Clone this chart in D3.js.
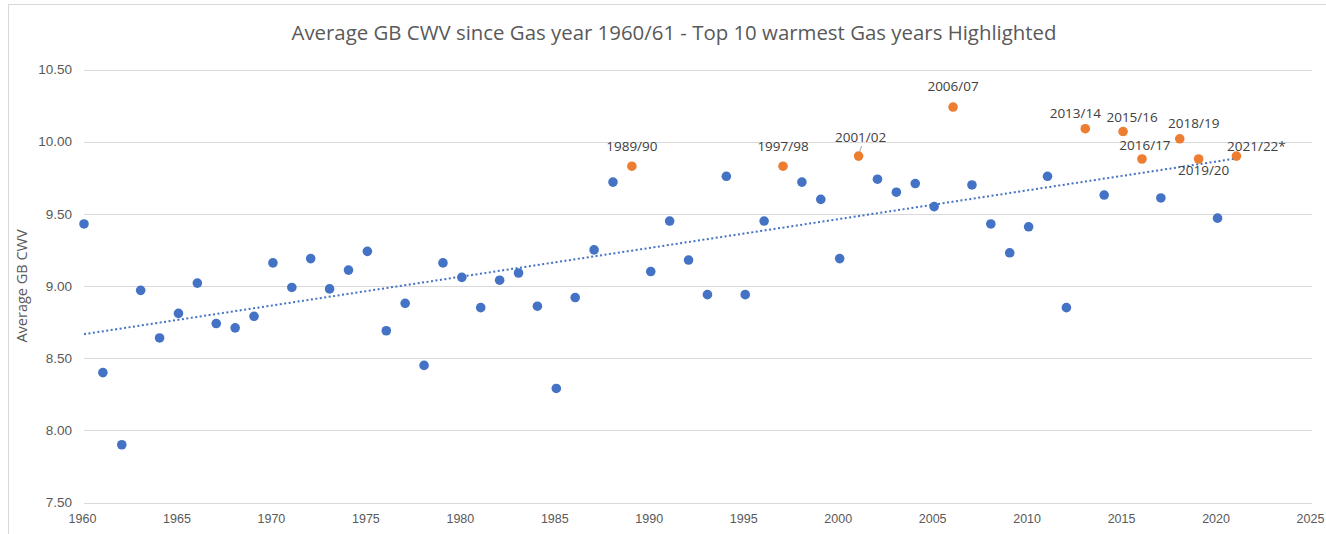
<!DOCTYPE html>
<html lang="en">
<head>
<meta charset="utf-8">
<title>Average GB CWV since Gas year 1960/61</title>
<script src="https://cdn.jsdelivr.net/npm/d3@7"></script>
<style>
  body { margin: 0; background: #fff; font-family: "Open Sans", sans-serif; overflow: hidden; }
  svg { display: block; }
  .grid line { stroke: #d9d9d9; stroke-width: 1; }
  .axis path, .axis line { display: none; }
  .axis text { fill: #595959; }
  .title { fill: #595959; font-size: 20.4px; }
  .ylabel { fill: #595959; font-size: 14.5px; }
  .lbl { fill: #404040; font-size: 13.5px; }
</style>
</head>
<body>
<div id="chart"></div>
<script>
// gas year start (1960 = 1960/61)
const years = d3.range(1960, 2022);
const cwv = [
  9.43, 8.40, 7.90, 8.97, 8.64, 8.81, 9.02, 8.74, 8.71, 8.79,
  9.16, 8.99, 9.19, 8.98, 9.11, 9.24, 8.69, 8.88, 8.45, 9.16,
  9.06, 8.85, 9.04, 9.09, 8.86, 8.29, 8.92, 9.25, 9.72, 9.83,
  9.10, 9.45, 9.18, 8.94, 9.76, 8.94, 9.45, 9.83, 9.72, 9.60,
  9.19, 9.90, 9.74, 9.65, 9.71, 9.55, 10.24, 9.70, 9.43, 9.23,
  9.41, 9.76, 8.85, 10.09, 9.63, 10.07, 9.88, 9.61, 10.02, 9.88,
  9.47, 9.90
];
// top 10 warmest gas years
const warmest = ["1989/90", "1997/98", "2001/02", "2006/07", "2013/14",
                 "2015/16", "2016/17", "2018/19", "2019/20", "2021/22*"];
const xTicks = d3.range(1960, 2026, 5);
const yTicks = [7.5, 8.0, 8.5, 9.0, 9.5, 10.0, 10.5];

// label placement (dx, dy from the point to the text centre)
const labelPos = {
  "1989/90": [0, -20], "1997/98": [0, -20], "2001/02": [2, -19],
  "2006/07": [0, -21], "2013/14": [-10, -15], "2015/16": [9, -14],
  "2016/17": [3, -14], "2018/19": [14, -16], "2019/20": [5, 11],
  "2021/22*": [20, -10]
};

const W = 1326, H = 534;
const margin = { left: 84, right: 14, top: 69.5, bottom: 31.5 };

const svg = d3.select("#chart").append("svg")
  .attr("width", W).attr("height", H);

// chart frame
svg.append("rect")
  .attr("x", 8.5).attr("y", 4.5).attr("width", W).attr("height", H)
  .attr("fill", "#fff").attr("stroke", "#d9d9d9");

const x = d3.scaleLinear().domain([1960, 2025]).range([margin.left, W - margin.right]);
const y = d3.scaleLinear().domain([7.5, 10.5]).range([H - margin.bottom, margin.top]);

// gridlines
svg.append("g").attr("class", "grid")
  .selectAll("line").data(yTicks).join("line")
  .attr("x1", x(1960)).attr("x2", x(2025))
  .attr("y1", d => Math.round(y(d)) + 0.5).attr("y2", d => Math.round(y(d)) + 0.5);

// axes
svg.append("g").attr("class", "axis")
  .attr("transform", `translate(${x(1960) - 6},0)`)
  .call(d3.axisLeft(y).tickValues(yTicks).tickFormat(d3.format(".2f")).tickSize(0))
  .selectAll("text").style("font-size", "13.5px").attr("dx", "-3");

svg.append("g").attr("class", "axis")
  .attr("transform", `translate(0,${y(7.5) + 9})`)
  .call(d3.axisBottom(x).tickValues(xTicks).tickFormat(d3.format("d")).tickSize(0))
  .selectAll("text").style("font-size", "12.5px").attr("dx", "-2");

// linear trendline (least squares)
const mx = d3.mean(years), my = d3.mean(cwv);
const slope = d3.sum(years, (d, i) => (d - mx) * (cwv[i] - my)) / d3.sum(years, d => (d - mx) ** 2);
const icpt = my - slope * mx;
const x0 = years[0], x1 = years[years.length - 1];
svg.append("line")
  .attr("x1", x(x0)).attr("y1", y(icpt + slope * x0))
  .attr("x2", x(x1)).attr("y2", y(icpt + slope * x1))
  .attr("stroke", "#4472c4").attr("stroke-width", 2)
  .attr("stroke-dasharray", "2,2.5");

// points
const pts = years.map((yr, i) => {
  const name = yr + "/" + String((yr + 1) % 100).padStart(2, "0");
  const hit = warmest.find(w => w.replace("*", "") === name);
  return { yr, v: cwv[i], label: hit || null };
});

svg.append("g").selectAll("circle").data(pts).join("circle")
  .attr("cx", d => x(d.yr)).attr("cy", d => y(d.v)).attr("r", 4.8)
  .attr("fill", d => d.label ? "#ed7d31" : "#4472c4");

// labels
const hot = pts.filter(d => d.label);
svg.append("g").selectAll("text").data(hot).join("text")
  .attr("class", "lbl")
  .attr("x", d => x(d.yr) + labelPos[d.label][0])
  .attr("y", d => y(d.v) + labelPos[d.label][1])
  .attr("dy", "0.35em")
  .attr("text-anchor", "middle")
  .text(d => d.label);

// small leader line for 2001/02
const p01 = hot.find(d => d.label === "2001/02");
svg.append("line")
  .attr("x1", x(p01.yr) + 3).attr("y1", y(p01.v) - 10)
  .attr("x2", x(p01.yr) + 1).attr("y2", y(p01.v) - 4)
  .attr("stroke", "#a6a6a6").attr("stroke-width", 1);

// title and y label
svg.append("text").attr("class", "title")
  .attr("x", 674).attr("y", 33).attr("dy", "0.35em")
  .attr("text-anchor", "middle")
  .text("Average GB CWV since Gas year 1960/61 - Top 10 warmest Gas years Highlighted");

svg.append("text").attr("class", "ylabel")
  .attr("transform", `translate(22,${(y(7.5) + y(10.5)) / 2}) rotate(-90)`)
  .attr("dy", "0.35em").attr("text-anchor", "middle")
  .text("Average GB CWV");
</script>
</body>
</html>
